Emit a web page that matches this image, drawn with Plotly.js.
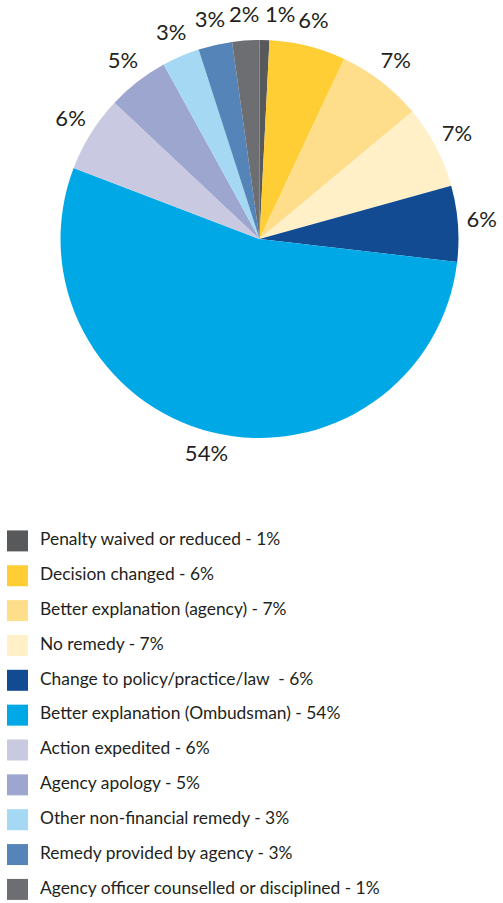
<!DOCTYPE html>
<html>
<head>
<meta charset="utf-8">
<script src="https://cdn.plot.ly/plotly-3.0.1.min.js"></script>
<style>html,body{margin:0;padding:0;background:#fff;}#chart{width:503px;height:903px;}</style>
</head>
<body>
<div id="chart"></div>
<script>
// Data
var categories = [
  'Penalty waived or reduced',
  'Decision changed',
  'Better explanation (agency)',
  'No remedy',
  'Change to policy/practice/law ',
  'Better explanation (Ombudsman)',
  'Action expedited',
  'Agency apology',
  'Other non-financial remedy',
  'Remedy provided by agency',
  'Agency officer counselled or disciplined'
];
var values = [0.8, 6.2, 6.95, 6.75, 6.15, 54.0, 6.2, 5.0, 3.05, 2.75, 2.2];
var legendPercents = ['1%', '6%', '7%', '7%', '6%', '54%', '6%', '5%', '3%', '3%', '1%'];
var colors = ['#58595b', '#ffcd34', '#fedd8b', '#fff0c8', '#124b91', '#00a9e6',
              '#c9cae2', '#9da6cf', '#a5d8f3', '#5585b8', '#6d6e72'];
// text alignment of each slice's percentage label (style only)
var labelAlign = ['middle right', 'middle center', 'middle center', 'middle center', 'middle center',
                  'middle center', 'middle center', 'middle center', 'middle center', 'middle center', 'middle center'];

var FONT = 'Lato, "Open Sans", sans-serif';
var PIE_DOMAIN = {x: [0.1203, 0.9115], y: [0.515, 0.9557]};
// polar frame concentric with the pie, radius 1.15x pie radius
var POLAR_DOMAIN = {x: [0.0608, 0.971], y: [0.4818, 0.9888]};

var total = values.reduce(function(a, b){ return a + b; }, 0);
var cum = 0;
var midTheta = values.map(function(v){
  var mid = (cum + v / 2) / total * 360;
  cum += v;
  return mid;
});
var pctText = values.map(function(v){ return Math.round(v / total * 100) + '%'; });
var legendText = categories.map(function(c, i){ return c + ' - ' + legendPercents[i]; });
var idx = categories.map(function(c, i){ return i; });

var pie = {
  type: 'pie',
  labels: categories,
  values: values,
  sort: false,
  direction: 'clockwise',
  rotation: 0,
  marker: {colors: colors, line: {width: 0}},
  textinfo: 'none',
  showlegend: false,
  hoverinfo: 'label+percent',
  automargin: false,
  domain: PIE_DOMAIN
};

var pieLabels = {
  type: 'scatterpolar',
  mode: 'text',
  r: values.map(function(){ return 1.12; }),
  theta: midTheta,
  text: pctText,
  textposition: labelAlign,
  textfont: {family: FONT, size: 22, color: '#231f20'},
  cliponaxis: false,
  showlegend: false,
  hoverinfo: 'skip'
};

var legendMarkers = {
  type: 'scatter',
  mode: 'markers',
  x: idx.map(function(){ return 17.5; }),
  y: idx,
  marker: {symbol: 'square', size: 21, color: colors, line: {width: 0}},
  showlegend: false,
  hoverinfo: 'skip',
  cliponaxis: false
};

var legendLabels = {
  type: 'scatter',
  mode: 'text',
  x: idx.map(function(){ return 40; }),
  y: idx,
  text: legendText,
  textposition: 'middle right',
  textfont: {family: FONT, size: 17.4, color: '#231f20'},
  showlegend: false,
  hoverinfo: 'skip',
  cliponaxis: false
};

var layout = {
  width: 503,
  height: 903,
  margin: {l: 0, r: 0, t: 0, b: 0},
  paper_bgcolor: '#ffffff',
  plot_bgcolor: 'rgba(0,0,0,0)',
  showlegend: false,
  xaxis: {range: [0, 503], domain: [0, 1], visible: false, fixedrange: true},
  yaxis: {range: [10.39, -15.52], domain: [0, 1], visible: false, fixedrange: true},
  polar: {
    domain: POLAR_DOMAIN,
    bgcolor: 'rgba(0,0,0,0)',
    radialaxis: {range: [0, 1.15], visible: false, showgrid: false, showline: false},
    angularaxis: {rotation: 90, direction: 'clockwise', visible: false, showgrid: false, showline: false}
  },
  font: {family: FONT}
};

Plotly.newPlot('chart', [pie, pieLabels, legendMarkers, legendLabels], layout, {displayModeBar: false, staticPlot: true});
</script>
</body>
</html>
